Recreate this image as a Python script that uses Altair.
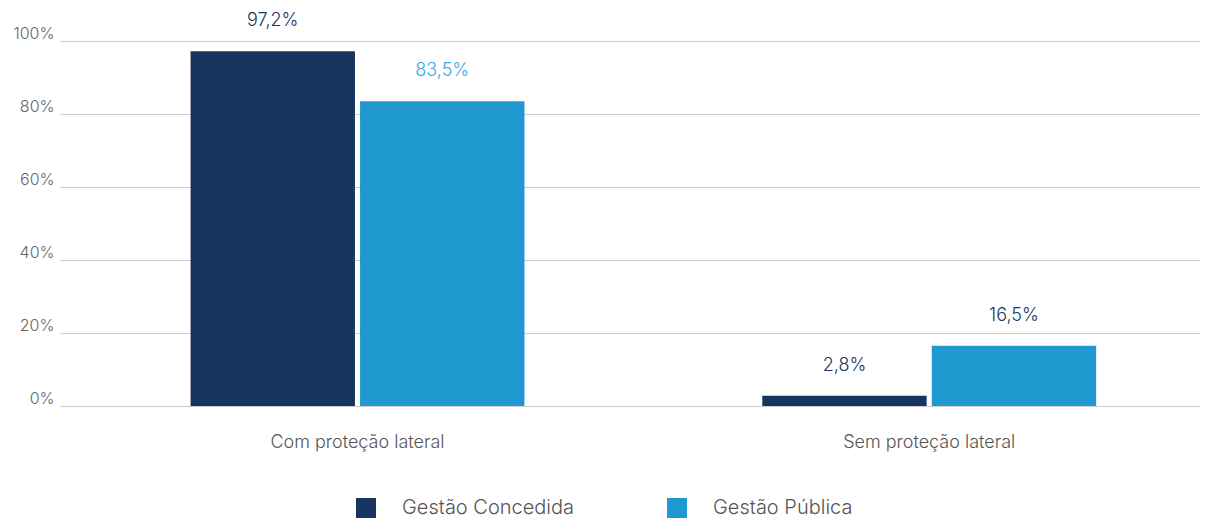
import altair as alt
import pandas as pd

categories = ["Com proteção lateral", "Com proteção lateral", "Sem proteção lateral", "Sem proteção lateral"]
series = ["Gestão Concedida", "Gestão Pública", "Gestão Concedida", "Gestão Pública"]
values = [0.972, 0.835, 0.028, 0.165]
labels = ["97,2%", "83,5%", "2,8%", "16,5%"]
label_colors = ["#1b365f", "#3aa8df", "#1b365f", "#1b365f"]

series_order = ["Gestão Concedida", "Gestão Pública"]
series_colors = ["#18355f", "#2098d0"]

df = pd.DataFrame({
    "cat": categories,
    "series": series,
    "value": values,
    "label": labels,
    "lcolor": label_colors,
})

FONT = "Inter"

x = alt.X("cat:N", title=None, sort=None,
          scale=alt.Scale(paddingInner=0.416, paddingOuter=0.205, align=0.557),
          axis=alt.Axis(labelAngle=0, labelFontSize=18, labelColor="#555555",
                        labelPadding=27, domain=False, ticks=False, labelFont=FONT,
                        labelFontWeight=300))
xo = alt.XOffset("series:N", sort=series_order, scale=alt.Scale(paddingInner=0.03))

bars = alt.Chart(df).mark_bar().encode(
    x=x,
    xOffset=xo,
    y=alt.Y("value:Q", title=None,
            scale=alt.Scale(domain=[0, 1]),
            axis=alt.Axis(format=".0%", values=[0, 0.2, 0.4, 0.6, 0.8, 1.0],
                          labelFontSize=16, labelColor="#666666", labelFont=FONT,
                          labelFontWeight=300,
                          domain=False, ticks=False, labelPadding=6,
                          gridColor="#cccccc", gridWidth=1, labelBaseline="bottom")),
    color=alt.Color("series:N", sort=series_order, title=None,
                    scale=alt.Scale(domain=series_order, range=series_colors),
                    legend=alt.Legend(orient="none", legendX=296, legendY=457,
                                      direction="horizontal",
                                      symbolType="square", symbolSize=400,
                                      symbolStrokeWidth=0, labelFontSize=20,
                                      labelColor="#555555", labelFont=FONT,
                                      labelFontWeight=300, labelLimit=400,
                                      columnPadding=92, labelOffset=26, padding=0)),
)

text = alt.Chart(df).mark_text(dy=-30, fontSize=18, font=FONT, fontWeight=300).encode(
    x=x,
    xOffset=xo,
    y="value:Q",
    text="label:N",
    color=alt.Color("lcolor:N", scale=None),
)

chart = (bars + text).properties(
    width=1140, height=365,
    padding={"left": 4, "top": 4, "right": 0, "bottom": 0},
).configure_view(stroke=None)

chart.save("out.html", embed_options={"renderer": "svg", "actions": False})
